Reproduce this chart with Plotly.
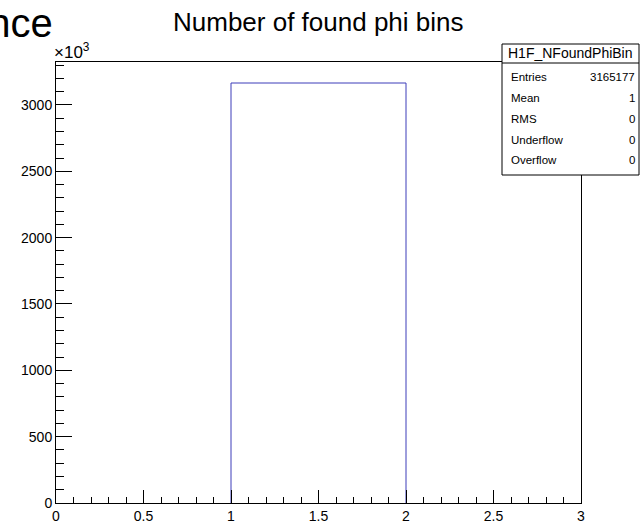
import plotly.graph_objects as go

# ---- data ----
bin_edges = [0, 1, 2, 3]
bin_counts = [0, 3165177, 0]
y_tick_vals = [0, 500000, 1000000, 1500000, 2000000, 2500000, 3000000]
y_tick_text = ["0", "500", "1000", "1500", "2000", "2500", "3000"]
x_tick_vals = [0, 0.5, 1, 1.5, 2, 2.5, 3]
x_tick_text = ["0", "0.5", "1", "1.5", "2", "2.5", "3"]
stats_title = "H1F_NFoundPhiBin"
stats_labels = ["Entries", "Mean", "RMS", "Underflow", "Overflow"]
stats_values = ["3165177", "1", "0", "0", "0"]
title_text = "Number of found phi bins"

W, H = 641, 526
L, R, T, B = 56, 581, 62, 503
FONT = "Liberation Sans, Arial, sans-serif"


def xp(x):
    return (x - L) / (R - L)


def yp(y):
    return (B - y) / (B - T)


fig = go.Figure()
# outline of each non-empty bin (empty bins lie on the axis)
for i, c in enumerate(bin_counts):
    if c <= 0:
        continue
    lo, hi = bin_edges[i], bin_edges[i + 1]
    fig.add_trace(go.Scatter(x=[lo, lo, hi, hi], y=[0, c, c, 0], mode="lines",
                             line=dict(color="rgb(60,60,185)", width=1),
                             hoverinfo="skip", showlegend=False))

ymax = max(bin_counts) * 1.05

fig.update_layout(
    width=W, height=H,
    margin=dict(l=L, r=W - R, t=T, b=H - B, pad=0, autoexpand=False),
    paper_bgcolor="white", plot_bgcolor="white",
    font=dict(family=FONT, color="black", size=14),
    showlegend=False,
    xaxis=dict(range=[0, 3], showgrid=False, zeroline=False, automargin=False,
               showline=True, linecolor="black", linewidth=1, mirror=True,
               tickmode="array", tickvals=x_tick_vals, ticktext=x_tick_text,
               ticks="inside", ticklen=13, tickcolor="black", tickwidth=1,
               ticklabelstandoff=0,
               minor=dict(tickmode="linear", tick0=0, dtick=0.1, ticks="inside",
                          ticklen=6.5, tickcolor="black", tickwidth=1),
               tickfont=dict(size=14)),
    yaxis=dict(range=[0, ymax], showgrid=False, zeroline=False, automargin=False,
               showline=True, linecolor="black", linewidth=1, mirror=True,
               tickmode="array", tickvals=y_tick_vals, ticktext=y_tick_text,
               ticks="inside", ticklen=16, tickcolor="black", tickwidth=1,
               minor=dict(tickmode="linear", tick0=0, dtick=100000, ticks="inside",
                          ticklen=8, tickcolor="black", tickwidth=1),
               tickfont=dict(size=14)),
)

ann = []
# title
ann.append(dict(text=title_text, x=xp(318), y=yp(22), xref="paper", yref="paper",
                xanchor="center", yanchor="middle", showarrow=False,
                font=dict(size=26, family=FONT)))
# clipped text at top-left (partly outside the page, as in the original)
ann.append(dict(text="ance", x=xp(55), y=yp(23), xref="paper", yref="paper",
                xanchor="right", yanchor="middle", showarrow=False,
                font=dict(size=40, family="Liberation Sans Narrow, Liberation Sans, Arial")))
# x10^3
ann.append(dict(text="×10<sup>3</sup>", x=xp(52), y=yp(51), xref="paper", yref="paper",
                xanchor="left", yanchor="middle", showarrow=False,
                font=dict(size=17, family=FONT)))

shapes = []
# stats box
box_l, box_r, box_t, box_b = 502, 639, 44, 175
shapes.append(dict(type="rect", xref="paper", yref="paper",
                   x0=xp(box_l), x1=xp(box_r), y0=yp(box_b), y1=yp(box_t),
                   line=dict(color="black", width=1), fillcolor="white", layer="above"))
shapes.append(dict(type="line", xref="paper", yref="paper",
                   x0=xp(box_l), x1=xp(box_r), y0=yp(63), y1=yp(63),
                   line=dict(color="black", width=1), layer="above"))
ann.append(dict(text=stats_title, x=xp((box_l + box_r) / 2), y=yp(53.5),
                xref="paper", yref="paper", xanchor="center", yanchor="middle",
                showarrow=False, font=dict(size=14, family=FONT)))
row_y = [77, 98, 119, 139.5, 160]
for lab, val, yy in zip(stats_labels, stats_values, row_y):
    ann.append(dict(text=lab, x=xp(509), y=yp(yy), xref="paper", yref="paper",
                    xanchor="left", yanchor="middle", showarrow=False,
                    font=dict(size=11.5, family=FONT)))
    ann.append(dict(text=val, x=xp(637), y=yp(yy), xref="paper", yref="paper",
                    xanchor="right", yanchor="middle", showarrow=False,
                    font=dict(size=11.5, family=FONT)))

fig.update_layout(annotations=ann, shapes=shapes)
fig.write_html("out.html")
